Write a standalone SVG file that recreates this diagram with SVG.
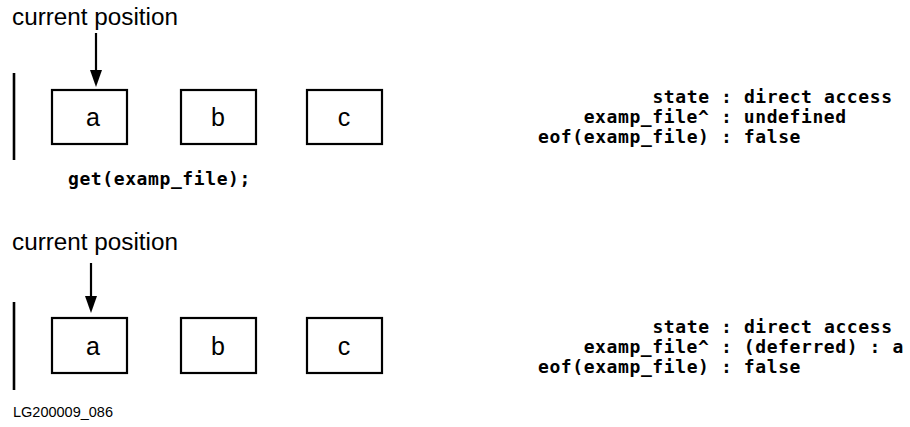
<svg xmlns="http://www.w3.org/2000/svg" width="910" height="427" viewBox="0 0 910 427">
<style>
.lbl{font-family:"Liberation Sans",Arial,sans-serif;font-size:23px;fill:#000}
.cell{font-family:"Liberation Sans",Arial,sans-serif;font-size:25px;fill:#000;text-anchor:middle}
.mono{font-family:"DejaVu Sans Mono","Liberation Mono",monospace;font-size:18px;letter-spacing:0.6px;font-weight:bold;fill:#000}
.box{fill:#fff;stroke:#000;stroke-width:2.2}
.bar{stroke:#000;stroke-width:2.6}
.arr{stroke:#000;stroke-width:2.2}
.fig{font-family:"Liberation Sans",Arial,sans-serif;font-size:14.5px;fill:#000}
</style>
<g id="connectors">
<line class="arr" x1="96" y1="33" x2="96" y2="73"/>
<path d="M90,70 L102,70 L96,87 Z" fill="#000"/>
<line class="arr" x1="91" y1="263" x2="91" y2="299"/>
<path d="M85,296 L97,296 L91,313 Z" fill="#000"/>
</g>
<g id="top">
<text class="lbl" x="12" y="25" textLength="166" lengthAdjust="spacingAndGlyphs">current position</text>
<line class="bar" x1="14" y1="73" x2="14" y2="160"/>
<g id="a1"><rect class="box" x="52" y="90" width="75" height="54"/><text class="cell" x="93" y="126">a</text></g>
<g id="b1"><rect class="box" x="181" y="90" width="75" height="54"/><text class="cell" x="218" y="126">b</text></g>
<g id="c1"><rect class="box" x="307" y="90" width="75" height="54"/><text class="cell" x="344" y="126">c</text></g>
<text class="mono" x="68" y="185">get(examp_file);</text>
<g id="state1">
<text class="mono" x="652.4" y="103">state : direct access</text>
<text class="mono" x="583.7" y="123">examp_file^ : undefined</text>
<text class="mono" x="538" y="143">eof(examp_file) : false</text>
</g>
</g>
<g id="bottom">
<text class="lbl" x="12" y="250" textLength="166" lengthAdjust="spacingAndGlyphs">current position</text>
<line class="bar" x1="14" y1="302" x2="14" y2="390"/>
<g id="a2"><rect class="box" x="52" y="318" width="75" height="55"/><text class="cell" x="93" y="355">a</text></g>
<g id="b2"><rect class="box" x="181" y="318" width="75" height="55"/><text class="cell" x="218" y="355">b</text></g>
<g id="c2"><rect class="box" x="307" y="318" width="75" height="55"/><text class="cell" x="344" y="355">c</text></g>
<g id="state2">
<text class="mono" x="652.4" y="333">state : direct access</text>
<text class="mono" x="583.7" y="353">examp_file^ : (deferred) : a</text>
<text class="mono" x="538" y="373">eof(examp_file) : false</text>
</g>
<text class="fig" x="13" y="417">LG200009_086</text>
</g>
</svg>
